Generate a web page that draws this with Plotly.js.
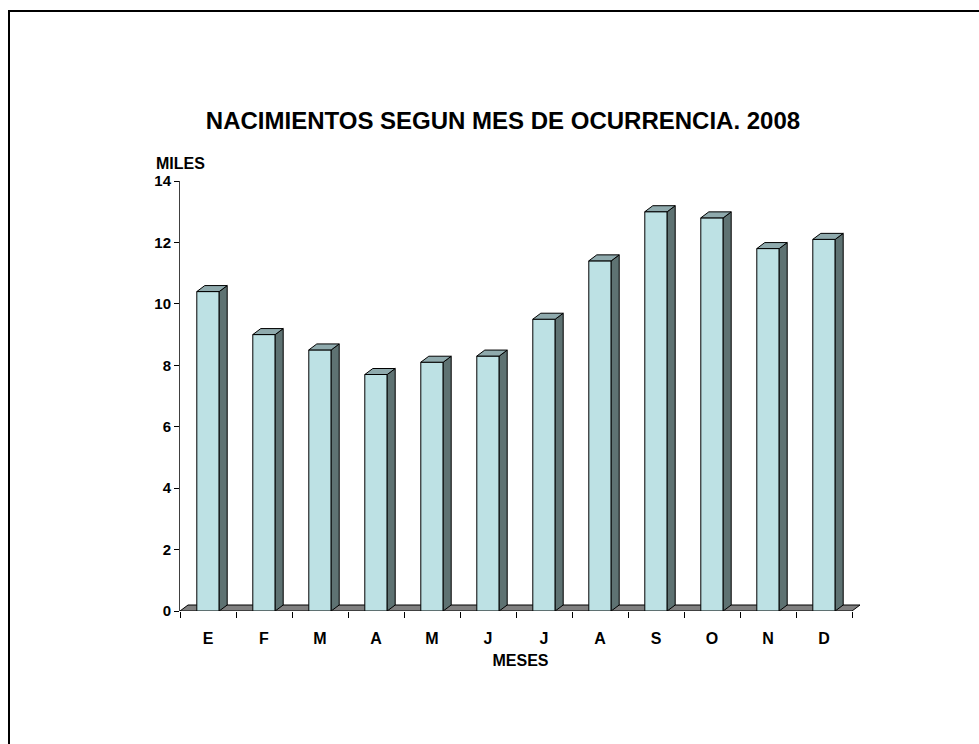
<!DOCTYPE html>
<html>
<head>
<meta charset="utf-8">
<script src="https://cdn.plot.ly/plotly-3.0.1.min.js"></script>
<style>
  html, body { margin: 0; padding: 0; width: 979px; height: 744px; overflow: hidden; background: #fff; }
  #chart { position: absolute; left: 0; top: 0; width: 979px; height: 744px; }
  #frame { position: absolute; left: 8px; top: 10px; width: 1000px; height: 800px; border: 2px solid #000; pointer-events: none; }
</style>
</head>
<body>
<div id="chart"></div>
<div id="frame"></div>
<script>
const months = ['E','F','M','A','M','J','J','A','S','O','N','D'];
const births = [10.4, 9.0, 8.5, 7.7, 8.1, 8.3, 9.5, 11.4, 13.0, 12.8, 11.8, 12.1];
const yTicks = [0, 2, 4, 6, 8, 10, 12, 14];

const idx = months.map((m, i) => i);
const pxPerX = 56, pxPerY = 430 / 14;
const barW = 0.4, hw = barW / 2;
const dx = 8 / pxPerX, dy = 6 / pxPerY;

const sideX = [], sideY = [], topX = [], topY = [];
births.forEach((v, i) => {
  const c = idx[i];
  sideX.push(c + hw, c + hw + dx, c + hw + dx, c + hw, c + hw, null);
  sideY.push(0, dy, v + dy, v, 0, null);
  topX.push(c - hw, c - hw + dx, c + hw + dx, c + hw, c - hw, null);
  topY.push(v, v + dy, v + dy, v, v, null);
});

const F = 'Liberation Sans, Arial, sans-serif';

const traces = [
  { type: 'bar', x: idx, y: births, width: barW,
    marker: { color: '#BDE1E4', line: { color: '#000', width: 1 } }, hoverinfo: 'skip' },
  { type: 'scatter', x: sideX, y: sideY, mode: 'lines', fill: 'toself', fillcolor: '#5E7272',
    line: { color: '#000', width: 1 }, hoverinfo: 'skip' },
  { type: 'scatter', x: topX, y: topY, mode: 'lines', fill: 'toself', fillcolor: '#8FAAAD',
    line: { color: '#000', width: 1 }, hoverinfo: 'skip' }
];

const xEnd = idx.length - 0.5;
const layout = {
  width: 979, height: 744,
  margin: { l: 180, r: 118, t: 181, b: 133 },
  paper_bgcolor: 'rgba(0,0,0,0)', plot_bgcolor: 'rgba(0,0,0,0)',
  showlegend: false,
  font: { family: F, color: '#000' },
  title: { text: 'NACIMIENTOS SEGUN MES DE OCURRENCIA. 2008',
    font: { family: F, size: 24, weight: 700, color: '#000' },
    xref: 'container', x: 503 / 979, xanchor: 'center',
    yref: 'container', y: 1 - 121 / 744, yanchor: 'middle' },
  xaxis: {
    range: [-0.5, xEnd + dx + 1 / pxPerX], fixedrange: true,
    tickmode: 'array', tickvals: idx, ticktext: months,
    ticks: '', ticklabelstandoff: 16,
    tickfont: { family: F, size: 16, weight: 700, color: '#000' },
    minor: { tickmode: 'linear', tick0: -0.5, dtick: 1, ticks: 'outside', ticklen: 6, tickcolor: '#000', tickwidth: 1, showgrid: false },
    showline: false, showgrid: false, zeroline: false,
    title: { text: 'MESES', font: { family: F, size: 16, weight: 700, color: '#000' }, standoff: 8 }
  },
  yaxis: {
    range: [0, 14], fixedrange: true,
    tickmode: 'array', tickvals: yTicks,
    ticks: 'outside', ticklen: 5, tickcolor: '#000', tickwidth: 1,
    tickfont: { family: F, size: 15, weight: 700, color: '#000' },
    showline: true, linecolor: '#404040', linewidth: 1,
    showgrid: false, zeroline: false
  },
  shapes: [{
    type: 'path', xref: 'x', yref: 'y', layer: 'below',
    path: `M -0.5,0 L ${xEnd},0 L ${xEnd + dx},${dy} L ${-0.5 + dx},${dy} Z`,
    fillcolor: '#808080', line: { color: '#000', width: 1 }
  }],
  annotations: [{
    text: 'MILES', xref: 'paper', yref: 'paper', x: 0, y: 1, yshift: 18,
    xanchor: 'center', yanchor: 'middle', showarrow: false,
    font: { family: F, size: 16, weight: 700, color: '#000' }
  }]
};

Plotly.newPlot('chart', traces, layout, { displayModeBar: false, staticPlot: true });
</script>
</body>
</html>
